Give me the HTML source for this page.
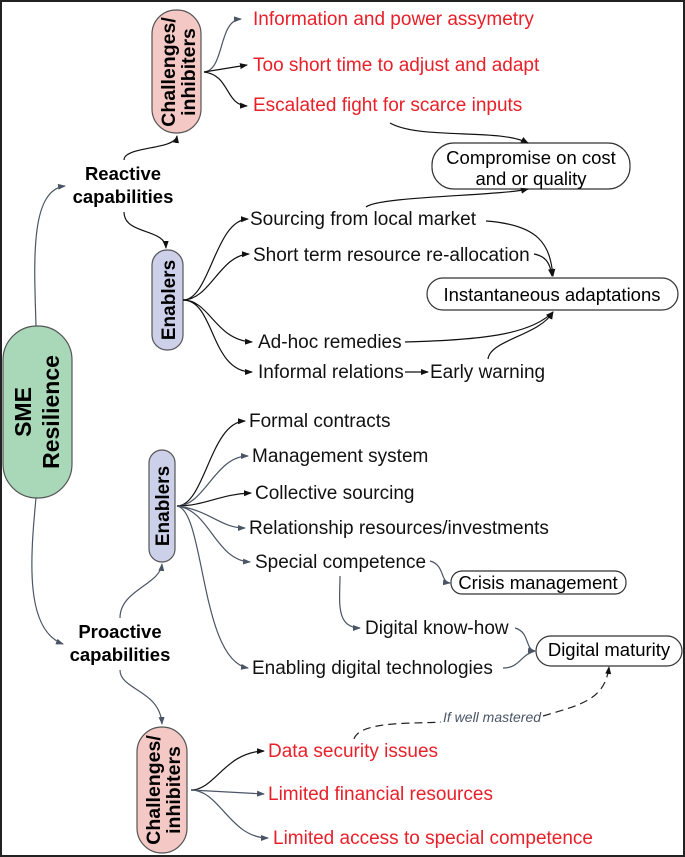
<!DOCTYPE html>
<html><head><meta charset="utf-8"><style>
html,body{margin:0;padding:0;background:#fff}
svg{display:block}
text{font-family:"Liberation Sans",sans-serif}
</style></head><body>
<svg width="685" height="857" viewBox="0 0 685 857" xmlns="http://www.w3.org/2000/svg">
<defs>
<marker id="a" markerWidth="8" markerHeight="8" refX="7" refY="4" orient="auto" markerUnits="userSpaceOnUse"><path d="M0,1 L8,4 L0,7 Z" fill="#111"/></marker>
<marker id="g" markerWidth="8" markerHeight="8" refX="7" refY="4" orient="auto" markerUnits="userSpaceOnUse"><path d="M0,1 L8,4 L0,7 Z" fill="#4a5566"/></marker>
</defs>
<rect x="1" y="1" width="683" height="855" fill="#fff" stroke="#222" stroke-width="2"/>

<rect x="3" y="326" width="69" height="172" rx="34" fill="#a9d8b8" stroke="#555" stroke-width="1.2"/>
<text transform="translate(31,412) rotate(-90)" text-anchor="middle" font-size="23" font-weight="bold">SME</text>
<text transform="translate(59,412) rotate(-90)" text-anchor="middle" font-size="23" font-weight="bold">Resilience</text>

<rect x="152" y="10" width="49" height="123" rx="24" fill="#f4c8c4" stroke="#555" stroke-width="1.2"/>
<text transform="translate(175,72) rotate(-90)" text-anchor="middle" font-size="19.5" font-weight="bold">Challenges/</text>
<text transform="translate(195,72) rotate(-90)" text-anchor="middle" font-size="19.5" font-weight="bold">inhibiters</text>

<rect x="152" y="250" width="31" height="100" rx="15" fill="#cdd0e9" stroke="#555" stroke-width="1.2"/>
<text transform="translate(175,300) rotate(-90)" text-anchor="middle" font-size="19" font-weight="bold">Enablers</text>

<rect x="149" y="450" width="26" height="112" rx="13" fill="#cdd0e9" stroke="#555" stroke-width="1.2"/>
<text transform="translate(169,506) rotate(-90)" text-anchor="middle" font-size="19" font-weight="bold">Enablers</text>

<rect x="137" y="727" width="50" height="126" rx="25" fill="#f4c8c4" stroke="#555" stroke-width="1.2"/>
<text transform="translate(160,790) rotate(-90)" text-anchor="middle" font-size="19.5" font-weight="bold">Challenges/</text>
<text transform="translate(180,790) rotate(-90)" text-anchor="middle" font-size="19.5" font-weight="bold">inhibiters</text>

<rect x="432" y="143" width="198" height="46" rx="22" fill="#fff" stroke="#333" stroke-width="1.2"/>
<text x="531" y="164" text-anchor="middle" font-size="18.5">Compromise on cost</text>
<text x="531" y="185" text-anchor="middle" font-size="18.5">and or quality</text>
<rect x="427" y="278" width="251" height="32" rx="16" fill="#fff" stroke="#333" stroke-width="1.2"/>
<text x="552" y="301" text-anchor="middle" font-size="18.5">Instantaneous adaptations</text>
<rect x="451" y="571" width="175" height="23" rx="11" fill="#fff" stroke="#333" stroke-width="1.2"/>
<text x="538" y="589" text-anchor="middle" font-size="18.5">Crisis management</text>
<rect x="536" y="636" width="146" height="30" rx="15" fill="#fff" stroke="#333" stroke-width="1.2"/>
<text x="609" y="656" text-anchor="middle" font-size="18.5">Digital maturity</text>

<text x="123" y="180" text-anchor="middle" font-size="18.5" font-weight="bold">Reactive</text>
<text x="123" y="203" text-anchor="middle" font-size="18.5" font-weight="bold">capabilities</text>
<text x="120" y="638" text-anchor="middle" font-size="18.5" font-weight="bold">Proactive</text>
<text x="120" y="661" text-anchor="middle" font-size="18.5" font-weight="bold">capabilities</text>

<g font-size="19" fill="#e8202a">
<text x="253" y="25">Information and power assymetry</text>
<text x="253" y="71">Too short time to adjust and adapt</text>
<text x="253" y="111">Escalated fight for scarce inputs</text>
<text x="268" y="757">Data security issues</text>
<text x="268" y="800">Limited financial resources</text>
<text x="273" y="844">Limited access to special competence</text>
</g>
<g font-size="19" fill="#111">
<text x="250" y="225">Sourcing from local market</text>
<text x="253" y="261">Short term resource re-allocation</text>
<text x="258" y="348">Ad-hoc remedies</text>
<text x="258" y="378">Informal relations</text>
<text x="430" y="378">Early warning</text>
<text x="249" y="427">Formal contracts</text>
<text x="252" y="462">Management system</text>
<text x="255" y="499">Collective sourcing</text>
<text x="249" y="534">Relationship resources/investments</text>
<text x="255" y="568">Special competence</text>
<text x="365" y="634">Digital know-how</text>
<text x="252" y="674">Enabling digital technologies</text>
</g>
<text x="443" y="722" font-size="14" font-style="italic" fill="#4a5566">If well mastered</text>

<g fill="none" stroke-width="1.2">
<path d="M36,326 C34,260 30,190 65,186" stroke="#4a5566" marker-end="url(#g)"/>
<path d="M36,498 C30,560 25,630 63,644" stroke="#4a5566" marker-end="url(#g)"/>
<path d="M124,160 C124,146 175,150 177,136" stroke="#111" marker-end="url(#a)"/>
<path d="M124,212 C124,235 165,228 166,248" stroke="#111" marker-end="url(#a)"/>
<path d="M120,618 C120,590 160,585 162,564" stroke="#4a5566" marker-end="url(#g)"/>
<path d="M120,670 C120,690 160,690 162,724" stroke="#4a5566" marker-end="url(#g)"/>

<path d="M204,72 C225,70 218,20 241,19" stroke="#4a5566" marker-end="url(#g)"/>
<path d="M204,72 L247,65" stroke="#111" marker-end="url(#a)"/>
<path d="M204,72 C230,75 225,105 247,106" stroke="#111" marker-end="url(#a)"/>

<path d="M183,300 C210,300 215,220 248,219" stroke="#111" marker-end="url(#a)"/>
<path d="M183,300 C210,300 220,255 249,254" stroke="#111" marker-end="url(#a)"/>
<path d="M183,300 C210,300 215,340 252,342" stroke="#111" marker-end="url(#a)"/>
<path d="M183,300 C215,300 210,372 252,372" stroke="#111" marker-end="url(#a)"/>

<path d="M390,123 C420,140 500,128 528,143" stroke="#111" marker-end="url(#a)"/>
<path d="M366,207 C380,196 500,196 528,189" stroke="#111" marker-end="url(#a)"/>
<path d="M486,221 C540,225 550,245 553,276" stroke="#111" marker-end="url(#a)"/>
<path d="M534,254 C545,256 550,262 552,276" stroke="#111" marker-end="url(#a)"/>
<path d="M405,342 C480,340 530,335 553,312" stroke="#111" marker-end="url(#a)"/>
<path d="M488,359 C490,340 540,335 553,312" stroke="#111" marker-end="url(#a)"/>
<path d="M405,372 L428,372" stroke="#111" marker-end="url(#a)"/>

<path d="M177,506 C205,506 210,422 245,421" stroke="#111" marker-end="url(#a)"/>
<path d="M177,506 C205,506 215,456 248,456" stroke="#4a5566" marker-end="url(#g)"/>
<path d="M177,506 C205,506 220,494 251,493" stroke="#111" marker-end="url(#a)"/>
<path d="M177,506 C210,510 220,528 245,528" stroke="#4a5566" marker-end="url(#g)"/>
<path d="M177,506 C210,510 215,560 250,562" stroke="#4a5566" marker-end="url(#g)"/>
<path d="M177,506 C205,510 200,660 248,668" stroke="#4a5566" marker-end="url(#g)"/>

<path d="M430,561 C445,565 440,582 450,583" stroke="#4a5566" marker-end="url(#g)"/>
<path d="M340,576 C340,600 335,628 360,628" stroke="#4a5566" marker-end="url(#g)"/>
<path d="M515,628 C530,632 525,650 535,651" stroke="#4a5566" marker-end="url(#g)"/>
<path d="M503,668 C520,668 520,655 535,651" stroke="#4a5566"/>

<path d="M354,739 C360,720 420,724 441,722" stroke="#222" stroke-dasharray="8,5"/>
<path d="M543,716 C580,705 605,700 609,667" stroke="#222" stroke-dasharray="8,5" marker-end="url(#a)"/>

<path d="M191,790 C215,790 225,752 264,751" stroke="#111" marker-end="url(#a)"/>
<path d="M191,790 L264,794" stroke="#4a5566" marker-end="url(#g)"/>
<path d="M191,790 C220,790 230,838 268,838" stroke="#4a5566" marker-end="url(#g)"/>
</g>
</svg>
</body></html>
